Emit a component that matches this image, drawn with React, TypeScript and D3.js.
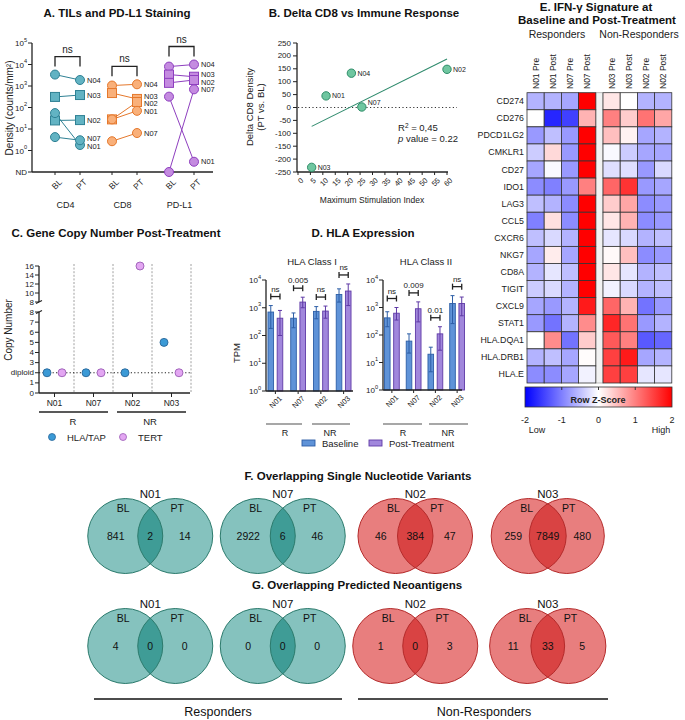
import React from "react";
import * as d3 from "d3";

const FONT = "'Liberation Sans', Arial, Helvetica, sans-serif";

// ---------- Panel A data ----------
const tilMarkers = ["CD4", "CD8", "PD-L1"];
const tilTimes = ["BL", "PT"];
const tilPatients = ["N04", "N03", "N02", "N01", "N07"];
const tilShapes = ["circle", "square", "square", "circle", "circle"];
const cd4BL = [3400, 310, 25, 55, 4.2];
const cd4PT = [1900, 380, 26, 1.8, 3.0];
const cd8BL = [1050, 470, 28, 28, 2.7];
const cd8PT = [1200, 250, 180, 70, 6.5];
const pdl1BL = [8000, 3400, 1400, 320, 0]; // 0 = ND
const pdl1PT = [10000, 2700, 1900, 0.3, 700];
const tilSignif = ["ns", "ns", "ns"];
const tilYTicks = [1, 10, 100, 1000, 10000, 100000];

// ---------- Panel B data ----------
const bPatients = ["N03", "N01", "N04", "N07", "N02"];
const bStimIndex = [5.5, 11.3, 21.5, 25.7, 60];
const bDeltaCD8 = [-232, 45, 133, 2, 148];
const bXTicks = [0, 5, 10, 15, 20, 25, 30, 35, 40, 45, 50, 55, 60];
const bYTicks = [250, 200, 150, 100, 50, 0, -50, -100, -150, -200, -250];

// ---------- Panel C data ----------
const cPatients = ["N01", "N07", "N02", "N03"];
const cHlaTap = [2, 2, 2, 5];
const cTert = [2, 2, 16, 2];
const cUpperTicks = [16, 14, 12, 10, 8];
const cLowerTicks = [0, 1, 2, 3, 4, 5, 6, 7, 8];

// ---------- Panel D data ----------
const dPatients = ["N01", "N07", "N02", "N03"];
const c1BaseMean = [700, 420, 740, 3000];
const c1BaseLo = [180, 190, 400, 1600];
const c1BaseHi = [1200, 650, 1100, 4800];
const c1PostMean = [420, 1600, 760, 4000];
const c1PostLo = [100, 1000, 420, 1200];
const c1PostHi = [800, 2400, 1150, 7200];
const c1P = ["ns", "0.005", "ns", "ns"];
const c2BaseMean = [420, 60, 20, 1400];
const c2BaseLo = [200, 22, 4.6, 260];
const c2BaseHi = [700, 110, 36, 2700];
const c2PostMean = [620, 900, 110, 1400];
const c2PostLo = [350, 300, 28, 500];
const c2PostHi = [1000, 1600, 200, 2400];
const c2P = ["ns", "0.009", "0.01", "ns"];
const dYTicks = [1, 10, 100, 1000, 10000];

// ---------- Panel E data ----------
const heatRows = ["CD274", "CD276", "PDCD1LG2", "CMKLR1", "CD27", "IDO1", "LAG3", "CCL5", "CXCR6", "NKG7", "CD8A", "TIGIT", "CXCL9", "STAT1", "HLA.DQA1", "HLA.DRB1", "HLA.E"];
const heatCols = ["N01 Pre", "N01 Post", "N07 Pre", "N07 Post", "N03 Pre", "N03 Post", "N02 Pre", "N02 Post"];
const heatZ = [
  [-0.6, -0.6, -0.7, 2.0, 0.2, 0.0, -0.6, -0.6],
  [0.0, -1.7, -1.5, 0.6, 1.0, 0.4, 1.1, 0.7],
  [-0.8, -0.5, -0.8, 2.0, 0.5, 0.1, -0.7, -0.6],
  [-0.4, 0.3, -0.8, 2.0, -0.05, -0.4, -0.7, -0.7],
  [-0.7, -0.05, -0.8, 2.0, -0.25, -0.25, -0.8, -0.3],
  [-0.9, -1.0, -0.8, 1.0, 1.2, 1.6, -0.8, -0.7],
  [-0.5, -0.6, -0.9, 2.0, 0.4, 0.7, -0.9, -0.8],
  [-1.0, 0.25, -0.9, 2.0, 0.2, 0.6, -0.9, -0.8],
  [-0.5, -0.3, -0.6, 2.0, -0.2, -0.3, -0.6, -0.5],
  [-0.7, 0.15, -0.7, 2.0, 0.05, 0.5, -0.9, -0.8],
  [-0.6, -0.2, -0.5, 2.0, 0.2, -0.2, -0.6, -0.5],
  [-0.4, -0.3, -0.6, 2.0, -0.1, -0.3, -0.6, -0.5],
  [-0.7, -0.8, -0.6, 1.8, 1.2, 0.6, -1.1, -0.8],
  [-0.8, -1.1, -0.6, 0.9, 1.7, 1.1, -0.8, -0.6],
  [0.0, 0.9, -1.1, 0.4, 1.3, 1.0, -1.3, -1.2],
  [-0.6, -0.5, -0.7, 0.02, 1.5, 1.8, -0.7, -0.6],
  [-0.9, -0.9, -0.7, -0.1, 1.5, 1.5, -0.2, -0.2],
];
const zTicks = [-2, -1, 0, 1, 2];

// ---------- Panel F/G data ----------
const vennPatients = ["N01", "N07", "N02", "N03"];
const vennGroup = ["R", "R", "NR", "NR"];
const snvBL = [841, 2922, 46, 259];
const snvShared = [2, 6, 384, 7849];
const snvPT = [14, 46, 47, 480];
const neoBL = [4, 0, 1, 11];
const neoShared = [0, 0, 0, 33];
const neoPT = [0, 0, 3, 5];

// ---------- helpers ----------
function Pow10({ x, y, v, size = 8 }: { x: number; y: number; v: number; size?: number }) {
  const e = Math.round(Math.log10(v));
  return (
    <text x={x} y={y} textAnchor="end" fontSize={size} dominantBaseline="central" fill="#222">
      <tspan>10</tspan>
      <tspan dy={-3.5} fontSize={size * 0.7}>{e}</tspan>
    </text>
  );
}

function spread(ys: number[], gap: number): number[] {
  const idx = ys.map((_, i) => i).sort((a, b) => ys[a] - ys[b]);
  const out = ys.slice();
  for (let pass = 0; pass < 6; pass++) {
    let i = 0;
    let moved = false;
    while (i < idx.length) {
      let j = i;
      while (j + 1 < idx.length && out[idx[j + 1]] - out[idx[j]] < gap - 0.01) j++;
      if (j > i) {
        const m = d3.mean(idx.slice(i, j + 1).map((k) => out[k])) as number;
        const n = j - i + 1;
        for (let k = i; k <= j; k++) out[idx[k]] = m + (k - i - (n - 1) / 2) * gap;
        moved = true;
      }
      i = j + 1;
    }
    if (!moved) break;
  }
  return out;
}

const Title = ({ x, y, t }: { x: number; y: number; t: string }) => (
  <text x={x} y={y} textAnchor="middle" fontSize={11.5} fontWeight="bold" fill="#111">{t}</text>
);

// ---------- Panel A ----------
function PanelA() {
  const y = d3.scaleLog().domain([0.1, 1e5]).range([172, 43]);
  const yv = (v: number) => y(v <= 0 ? 0.1 : v);
  const gx = d3.scaleBand().domain(tilMarkers).range([39, 210]);
  const tx = (g: string, t: string) => (gx(g) as number) + gx.bandwidth() / 2 + (t === "BL" ? -12.5 : 12.5);
  const series = [
    { bl: cd4BL, pt: cd4PT, fill: "#62b3c3", stroke: "#2f8194" },
    { bl: cd8BL, pt: cd8PT, fill: "#f9b07a", stroke: "#e5782c" },
    { bl: pdl1BL, pt: pdl1PT, fill: "#c48be0", stroke: "#8e3fbf" },
  ];
  const mark = (shape: string, cx: number, cy: number, fill: string, stroke: string, key: string) =>
    shape === "circle" ? (
      <circle key={key} cx={cx} cy={cy} r={4.5} fill={fill} stroke={stroke} strokeWidth={1} />
    ) : (
      <rect key={key} x={cx - 4.5} y={cy - 4.5} width={9} height={9} fill={fill} stroke={stroke} strokeWidth={1} />
    );
  return (
    <g>
      <Title x={117} y={17} t="A. TILs and PD-L1 Staining" />
      <text transform="translate(13,108) rotate(-90)" textAnchor="middle" fontSize={10} fill="#222">Density (counts/mm²)</text>
      <line x1={32} x2={32} y1={43} y2={172} stroke="#222" strokeWidth={1.3} />
      <line x1={32} x2={213} y1={172} y2={172} stroke="#222" strokeWidth={1.3} />
      {tilYTicks.map((v) => (
        <g key={v}>
          <line x1={28} x2={32} y1={y(v)} y2={y(v)} stroke="#222" />
          <Pow10 x={27} y={y(v)} v={v} />
        </g>
      ))}
      <line x1={28} x2={32} y1={y(0.1)} y2={y(0.1)} stroke="#222" />
      <text x={27} y={y(0.1)} textAnchor="end" dominantBaseline="central" fontSize={8} fill="#222">ND</text>
      {tilMarkers.map((g) =>
        tilTimes.map((t) => (
          <g key={g + t}>
            <line x1={tx(g, t)} x2={tx(g, t)} y1={172} y2={175} stroke="#222" />
            <text transform={`translate(${tx(g, t) + 3},${178}) rotate(-45)`} textAnchor="end" dominantBaseline="hanging" fontSize={8.5} fill="#222">{t}</text>
          </g>
        ))
      )}
      {tilMarkers.map((g) => (
        <text key={g} x={(gx(g) as number) + gx.bandwidth() / 2 - 2} y={208} textAnchor="middle" fontSize={9} fill="#222">{g}</text>
      ))}
      {series.map((s, si) => {
        const g = tilMarkers[si];
        const x0 = tx(g, "BL");
        const x1 = tx(g, "PT");
        const labY = spread(s.pt.map((v) => yv(v)), 7.5);
        const top = (d3.min([...s.bl, ...s.pt].map((v) => yv(v))) as number) - 18;
        return (
          <g key={g}>
            <path d={`M${x0},${top + 10}V${top}H${x1}V${top + 10}`} fill="none" stroke="#222" strokeWidth={1.3} />
            <text x={(x0 + x1) / 2} y={top - 4} textAnchor="middle" fontSize={10} fill="#222">{tilSignif[si]}</text>
            {tilPatients.map((p, i) => (
              <line key={p} x1={x0} x2={x1} y1={yv(s.bl[i])} y2={yv(s.pt[i])} stroke={s.stroke} strokeWidth={1} />
            ))}
            {tilPatients.map((p, i) => mark(tilShapes[i], x0, yv(s.bl[i]), s.fill, s.stroke, p + "b"))}
            {tilPatients.map((p, i) => mark(tilShapes[i], x1, yv(s.pt[i]), s.fill, s.stroke, p + "p"))}
            {tilPatients.map((p, i) => (
              <text key={p + "l"} x={x1 + 7} y={labY[i]} dominantBaseline="central" fontSize={7.5} fill="#222">{p}</text>
            ))}
          </g>
        );
      })}
    </g>
  );
}

// ---------- Panel B ----------
function PanelB() {
  const x = d3.scaleLinear().domain([0, 60]).range([298, 447]);
  const y = d3.scaleLinear().domain([-250, 250]).range([172, 43]);
  const mx = d3.mean(bStimIndex) as number;
  const my = d3.mean(bDeltaCD8) as number;
  let sxy = 0, sxx = 0, syy = 0;
  bStimIndex.forEach((v, i) => {
    sxy += (v - mx) * (bDeltaCD8[i] - my);
    sxx += (v - mx) ** 2;
    syy += (bDeltaCD8[i] - my) ** 2;
  });
  const slope = sxy / sxx;
  const icpt = my - slope * mx;
  const xmin = d3.min(bStimIndex) as number;
  const xmax = d3.max(bStimIndex) as number;
  const line = d3.line<number>().x((d) => x(d)).y((d) => y(icpt + slope * d));
  return (
    <g>
      <Title x={364} y={17} t="B. Delta CD8 vs Immune Response" />
      <text transform="translate(258,107) rotate(-90)" textAnchor="middle" fontSize={9.5} fill="#222">
        <tspan x={0} dy={-5}>Delta CD8 Density</tspan>
        <tspan x={0} dy={11}>(PT vs. BL)</tspan>
      </text>
      <line x1={297} x2={297} y1={43} y2={172} stroke="#222" strokeWidth={1.3} />
      <line x1={297} x2={448} y1={172} y2={172} stroke="#222" strokeWidth={1.3} />
      {bYTicks.map((v) => (
        <g key={v}>
          <line x1={293} x2={297} y1={y(v)} y2={y(v)} stroke="#222" />
          <text x={291} y={y(v)} textAnchor="end" dominantBaseline="central" fontSize={8} fill="#222">{v}</text>
        </g>
      ))}
      {bXTicks.map((v) => (
        <g key={v}>
          <line x1={x(v)} x2={x(v)} y1={172} y2={175} stroke="#222" />
          <text transform={`translate(${x(v) + 2},${177}) rotate(-45)`} textAnchor="end" dominantBaseline="hanging" fontSize={7.5} fill="#222">{v}</text>
        </g>
      ))}
      <text x={372} y={203} textAnchor="middle" fontSize={8.5} fill="#222">Maximum Stimulation Index</text>
      <line x1={298} x2={457} y1={y(0)} y2={y(0)} stroke="#333" strokeWidth={1} strokeDasharray="1.2,2.4" />
      <path d={line([xmin, xmax]) as string} fill="none" stroke="#2e8a6c" strokeWidth={1.1} />
      {bPatients.map((p, i) => (
        <g key={p}>
          <circle cx={x(bStimIndex[i])} cy={y(bDeltaCD8[i])} r={4.2} fill="#6fc6a0" stroke="#2f8d69" strokeWidth={1} />
          <text x={x(bStimIndex[i]) + 6} y={y(bDeltaCD8[i]) - (p === "N07" ? 4 : 0)} dominantBaseline="central" fontSize={7} fill="#222">{p}</text>
        </g>
      ))}
      <text x={398} y={131} fontSize={9.5} fill="#222">
        R<tspan dy={-3.5} fontSize={6.5}>2</tspan><tspan dy={3.5}> = {(sxy * sxy / (sxx * syy)).toFixed(2).replace(".", ",").replace("0,44", "0,45")}</tspan>
      </text>
      <text x={398} y={141.5} fontSize={9.5} fill="#222"><tspan fontStyle="italic">p</tspan> value = 0.22</text>
    </g>
  );
}

// ---------- Panel C ----------
function PanelC() {
  const yU = d3.scaleLinear().domain([8, 16]).range([302, 266]);
  const yL = d3.scaleLinear().domain([0, 8]).range([393, 312]);
  const yv = (v: number) => (v > 8 ? yU(v) : yL(v));
  const x = d3.scaleBand().domain(cPatients).range([35, 191]);
  const cx = (p: string) => (x(p) as number) + x.bandwidth() / 2;
  return (
    <g>
      <Title x={116} y={237} t="C. Gene Copy Number Post-Treatment" />
      <text transform="translate(12,330) rotate(-90)" textAnchor="middle" fontSize={10} fill="#222">Copy Number</text>
      {cPatients.map((p) => (
        <line key={p} x1={(x(p) as number) + x.bandwidth()} x2={(x(p) as number) + x.bandwidth()} y1={264} y2={393} stroke="#888" strokeWidth={0.8} strokeDasharray="2,1.6" />
      ))}
      <line x1={39} x2={39} y1={266} y2={302} stroke="#222" strokeWidth={1.3} />
      <line x1={39} x2={39} y1={312} y2={393} stroke="#222" strokeWidth={1.3} />
      <line x1={36} x2={42} y1={303.5} y2={300.5} stroke="#222" strokeWidth={1.2} />
      <line x1={36} x2={42} y1={313.5} y2={310.5} stroke="#222" strokeWidth={1.2} />
      <line x1={39} x2={190} y1={393} y2={393} stroke="#222" strokeWidth={1.3} />
      {cUpperTicks.map((v) => (
        <g key={"u" + v}>
          <line x1={35} x2={39} y1={yU(v)} y2={yU(v)} stroke="#222" />
          <text x={34} y={yU(v)} textAnchor="end" dominantBaseline="central" fontSize={8} fill="#222">{v}</text>
        </g>
      ))}
      {cLowerTicks.map((v) => (
        <g key={"l" + v}>
          <line x1={35} x2={39} y1={yL(v)} y2={yL(v)} stroke="#222" />
          <text x={34} y={yL(v)} textAnchor="end" dominantBaseline="central" fontSize={8} fill="#222">{v === 2 ? "diploid" : v}</text>
        </g>
      ))}
      <line x1={39} x2={190} y1={yL(2)} y2={yL(2)} stroke="#222" strokeWidth={1} strokeDasharray="1.2,2.2" />
      {cPatients.map((p, i) => (
        <g key={p}>
          <line x1={cx(p)} x2={cx(p)} y1={393} y2={397} stroke="#222" />
          <text x={cx(p)} y={406} textAnchor="middle" fontSize={8.5} fill="#222">{p}</text>
          <circle cx={cx(p) - 7.5} cy={yv(cHlaTap[i])} r={4} fill="#3b9ad6" stroke="#28679a" strokeWidth={0.9} />
          <circle cx={cx(p) + 7.5} cy={yv(cTert[i])} r={4} fill="#e3a6f2" stroke="#9b5cb6" strokeWidth={0.9} />
        </g>
      ))}
      <line x1={39} x2={108} y1={412} y2={412} stroke="#222" strokeWidth={1.3} />
      <line x1={117} x2={186} y1={412} y2={412} stroke="#222" strokeWidth={1.3} />
      <text x={73} y={425} textAnchor="middle" fontSize={9.5} fill="#222">R</text>
      <text x={150} y={425} textAnchor="middle" fontSize={9.5} fill="#222">NR</text>
      <circle cx={52} cy={437} r={3.5} fill="#3b9ad6" stroke="#28679a" strokeWidth={0.8} />
      <text x={67} y={437} dominantBaseline="central" fontSize={9.5} fill="#222">HLA/TAP</text>
      <circle cx={123} cy={437} r={3.5} fill="#e3a6f2" stroke="#9b5cb6" strokeWidth={0.8} />
      <text x={138} y={437} dominantBaseline="central" fontSize={9.5} fill="#222">TERT</text>
    </g>
  );
}

// ---------- Panel D ----------
type BarSet = { bm: number[]; bl: number[]; bh: number[]; pm: number[]; pl: number[]; ph: number[]; p: string[] };
function HLAPlot({ axisX, xr, top0, y0, endX, title, titleX, d }: { axisX: number; xr: [number, number]; top0: number; y0: number; endX: number; title: string; titleX: number; d: BarSet }) {
  const y = d3.scaleLog().domain([1, 1e4]).range([y0, top0]);
  const x = d3.scaleBand().domain(dPatients).range(xr);
  const cx = (p: string) => (x(p) as number) + x.bandwidth() / 2;
  const bw = 5.6;
  const off = 4.6;
  const baseFill = "#5f93d8", baseStroke = "#2d5ea6";
  const postFill = "#a187dc", postStroke = "#5f3aa6";
  const bar = (xc: number, m: number, lo: number, hi: number, fill: string, stroke: string, key: string) => (
    <g key={key}>
      <rect x={xc - bw / 2} y={y(m)} width={bw} height={y0 - y(m)} fill={fill} stroke={stroke} strokeWidth={0.9} />
      <line x1={xc} x2={xc} y1={y(hi)} y2={y(lo)} stroke={stroke} strokeWidth={1} />
      <line x1={xc - 2} x2={xc + 2} y1={y(hi)} y2={y(hi)} stroke={stroke} strokeWidth={1} />
      <line x1={xc - 2} x2={xc + 2} y1={y(lo)} y2={y(lo)} stroke={stroke} strokeWidth={1} />
    </g>
  );
  return (
    <g>
      <text x={titleX} y={265} textAnchor="middle" fontSize={9.5} fill="#222">{title}</text>
      {dPatients.map((p, i) => bar(cx(p) - off, d.bm[i], d.bl[i], d.bh[i], baseFill, baseStroke, p + "b"))}
      {dPatients.map((p, i) => bar(cx(p) + off, d.pm[i], d.pl[i], d.ph[i], postFill, postStroke, p + "p"))}
      <line x1={axisX} x2={axisX} y1={top0} y2={y0} stroke="#222" strokeWidth={1.3} />
      <line x1={axisX} x2={endX} y1={y0} y2={y0} stroke="#222" strokeWidth={1.3} />
      {dYTicks.map((v) => (
        <g key={v}>
          <line x1={axisX - 4} x2={axisX} y1={y(v)} y2={y(v)} stroke="#222" />
          <Pow10 x={axisX - 5} y={y(v)} v={v} size={8} />
        </g>
      ))}
      {dPatients.map((p, i) => {
        const by = Math.min(y(d.bh[i]), y(d.ph[i])) - 9;
        const xa = cx(p) - off, xb = cx(p) + off;
        return (
          <g key={p + "s"}>
            <line x1={xa} x2={xb} y1={by} y2={by} stroke="#222" strokeWidth={1.3} />
            <line x1={xa} x2={xa} y1={by - 3} y2={by + 3} stroke="#222" strokeWidth={1.3} />
            <line x1={xb} x2={xb} y1={by - 3} y2={by + 3} stroke="#222" strokeWidth={1.3} />
            <text x={cx(p)} y={by - 5} textAnchor="middle" fontSize={8} fill="#222">{d.p[i]}</text>
            <line x1={cx(p)} x2={cx(p)} y1={y0} y2={y0 + 3} stroke="#222" />
            <text transform={`translate(${cx(p) + 3},${y0 + 4}) rotate(-45)`} textAnchor="end" dominantBaseline="hanging" fontSize={7.5} fill="#222">{p}</text>
          </g>
        );
      })}
    </g>
  );
}

function PanelD() {
  return (
    <g>
      <Title x={363} y={237} t="D. HLA Expression" />
      <text transform="translate(240,353) rotate(-90)" textAnchor="middle" fontSize={9.5} fill="#222">TPM</text>
      <HLAPlot axisX={266} xr={[264, 355]} top0={280} y0={391} endX={353} title="HLA Class I" titleX={312} d={{ bm: c1BaseMean, bl: c1BaseLo, bh: c1BaseHi, pm: c1PostMean, pl: c1PostLo, ph: c1PostHi, p: c1P }} />
      <HLAPlot axisX={383} xr={[381, 468]} top0={280} y0={390} endX={462} title="HLA Class II" titleX={426} d={{ bm: c2BaseMean, bl: c2BaseLo, bh: c2BaseHi, pm: c2PostMean, pl: c2PostLo, ph: c2PostHi, p: c2P }} />
      <line x1={266} x2={302} y1={424} y2={424} stroke="#8a8a8a" strokeWidth={1.6} />
      <line x1={312} x2={350} y1={424} y2={424} stroke="#8a8a8a" strokeWidth={1.6} />
      <line x1={383} x2={422} y1={424} y2={424} stroke="#8a8a8a" strokeWidth={1.6} />
      <line x1={429} x2={468} y1={424} y2={424} stroke="#8a8a8a" strokeWidth={1.6} />
      <text x={285} y={436} textAnchor="middle" fontSize={9} fill="#222">R</text>
      <text x={330} y={436} textAnchor="middle" fontSize={9} fill="#222">NR</text>
      <text x={403} y={436} textAnchor="middle" fontSize={9} fill="#222">R</text>
      <text x={448} y={436} textAnchor="middle" fontSize={9} fill="#222">NR</text>
      <rect x={302} y={440} width={13} height={6} fill="#5f93d8" stroke="#2d5ea6" strokeWidth={0.9} />
      <text x={322} y={443.5} dominantBaseline="central" fontSize={9.5} fill="#222">Baseline</text>
      <rect x={369} y={440} width={13} height={6} fill="#a187dc" stroke="#5f3aa6" strokeWidth={0.9} />
      <text x={389} y={443.5} dominantBaseline="central" fontSize={9.5} fill="#222">Post-Treatment</text>
    </g>
  );
}

// ---------- Panel E ----------
function PanelE() {
  const color = d3.scaleLinear<string>().domain([-2, 0, 2]).range(["#0000ff", "#ffffff", "#ff0000"]).clamp(true);
  const cw = 17.2;
  const colX = (j: number) => (j < 4 ? 527 + j * cw : 603 + (j - 4) * cw);
  const y = d3.scaleBand().domain(heatRows).range([92.7, 383]);
  const zx = d3.scaleLinear().domain([-2, 2]).range([525, 672]);
  return (
    <g>
      <text x={596} y={11} textAnchor="middle" fontSize={11.5} fontWeight="bold" fill="#111">E. IFN-γ Signature at</text>
      <text x={597} y={24} textAnchor="middle" fontSize={11.5} fontWeight="bold" fill="#111">Baseline and Post-Treatment</text>
      <text x={557} y={38} textAnchor="middle" fontSize={10.5} fill="#222">Responders</text>
      <text x={639} y={38} textAnchor="middle" fontSize={10.5} fill="#222">Non-Responders</text>
      {heatCols.map((c, j) => (
        <text key={c} transform={`translate(${colX(j) + cw / 2},89) rotate(-90)`} textAnchor="start" dominantBaseline="central" fontSize={8.5} fill="#222">{c}</text>
      ))}
      <rect x={527 + 4 * cw} y={92.7} width={603 - (527 + 4 * cw)} height={383 - 92.7} fill="#f2f2f2" stroke="#aaa" strokeWidth={0.8} />
      {heatRows.map((r, i) => (
        <g key={r}>
          <text x={524} y={(y(r) as number) + y.bandwidth() / 2} textAnchor="end" dominantBaseline="central" fontSize={8.8} fill="#222">{r}</text>
          {heatCols.map((c, j) => (
            <rect key={c} x={colX(j)} y={y(r)} width={cw} height={y.bandwidth()} fill={color(heatZ[i][j])} stroke="#333" strokeWidth={0.8} />
          ))}
        </g>
      ))}
      <defs>
        <linearGradient id="zgrad" x1="0" x2="1" y1="0" y2="0">
          <stop offset="0%" stopColor="#0000ff" />
          <stop offset="50%" stopColor="#ffffff" />
          <stop offset="100%" stopColor="#ff0000" />
        </linearGradient>
      </defs>
      <rect x={525} y={387} width={147} height={20} fill="url(#zgrad)" stroke="#333" strokeWidth={0.8} />
      {[-1, 0, 1].map((v) => (
        <line key={v} x1={zx(v)} x2={zx(v)} y1={387} y2={390} stroke="#333" />
      ))}
      <text x={598} y={400} textAnchor="middle" dominantBaseline="central" fontSize={9} fontWeight="bold" fill="#222">Row Z-Score</text>
      {zTicks.map((v) => (
        <text key={v} x={zx(v)} y={420} textAnchor="middle" dominantBaseline="central" fontSize={9} fill="#222">{v}</text>
      ))}
      <text x={537} y={430} textAnchor="middle" dominantBaseline="central" fontSize={9} fill="#222">Low</text>
      <text x={661} y={430} textAnchor="middle" dominantBaseline="central" fontSize={9} fill="#222">High</text>
    </g>
  );
}

// ---------- Panels F & G ----------
function VennRow({ cy, bl, sh, pt, prefix }: { cy: number; bl: number[]; sh: number[]; pt: number[]; prefix: string }) {
  const x = d3.scaleBand().domain(vennPatients).range([84, 614]);
  const r = 37.5;
  const pal = {
    R: { s: "#85c2be", o: "#3f9c96", k: "#2b7a6c" },
    NR: { s: "#e87e7e", o: "#d94343", k: "#b42a2a" },
  } as Record<string, { s: string; o: string; k: string }>;
  return (
    <g>
      {vennPatients.map((p, i) => {
        const m = (x(p) as number) + x.bandwidth() / 2;
        const frac = sh[i] / (bl[i] + sh[i] + pt[i] || 1);
        const dist = 50 - 13 * frac;
        const cL = m - dist / 2, cR = m + dist / 2;
        const c = pal[vennGroup[i]];
        const id = `${prefix}${p}`;
        return (
          <g key={p}>
            <defs>
              <clipPath id={id}>
                <circle cx={cL} cy={cy} r={r} />
              </clipPath>
            </defs>
            <circle cx={cL} cy={cy} r={r} fill={c.s} />
            <circle cx={cR} cy={cy} r={r} fill={c.s} />
            <circle cx={cR} cy={cy} r={r} fill={c.o} clipPath={`url(#${id})`} />
            <circle cx={cL} cy={cy} r={r} fill="none" stroke={c.k} strokeWidth={1} />
            <circle cx={cR} cy={cy} r={r} fill="none" stroke={c.k} strokeWidth={1} />
            <text x={m} y={cy - r - 0.5} textAnchor="middle" fontSize={11.5} fill="#111">{p}</text>
            <text x={cL - 2} y={cy - 28} textAnchor="middle" dominantBaseline="central" fontSize={10.5} fill="#111">BL</text>
            <text x={cR + 2} y={cy - 28} textAnchor="middle" dominantBaseline="central" fontSize={10.5} fill="#111">PT</text>
            <text x={m - r + 3} y={cy} textAnchor="middle" dominantBaseline="central" fontSize={10.5} fill="#111">{bl[i]}</text>
            <text x={m} y={cy} textAnchor="middle" dominantBaseline="central" fontSize={10.5} fill="#111">{sh[i]}</text>
            <text x={m + r - 3} y={cy} textAnchor="middle" dominantBaseline="central" fontSize={10.5} fill="#111">{pt[i]}</text>
          </g>
        );
      })}
    </g>
  );
}

function PanelFG() {
  return (
    <g>
      <Title x={358} y={480} t="F. Overlapping Single Nucleotide Variants" />
      <VennRow cy={536} bl={snvBL} sh={snvShared} pt={snvPT} prefix="f" />
      <Title x={357} y={589} t="G. Overlapping Predicted  Neoantigens" />
      <VennRow cy={646} bl={neoBL} sh={neoShared} pt={neoPT} prefix="g" />
      <line x1={94} x2={342} y1={699} y2={699} stroke="#111" strokeWidth={1.4} />
      <line x1={358} x2={608} y1={699} y2={699} stroke="#111" strokeWidth={1.4} />
      <text x={218} y={716} textAnchor="middle" fontSize={12.5} fill="#111">Responders</text>
      <text x={484} y={716} textAnchor="middle" fontSize={12.5} fill="#111">Non-Responders</text>
    </g>
  );
}

export default function App() {
  return (
    <svg width={685} height={720} style={{ position: "absolute", left: 0, top: 0 }} fontFamily={FONT}>
      <rect width={685} height={720} fill="#fff" />
      <PanelA />
      <PanelB />
      <PanelC />
      <PanelD />
      <PanelE />
      <PanelFG />
    </svg>
  );
}
